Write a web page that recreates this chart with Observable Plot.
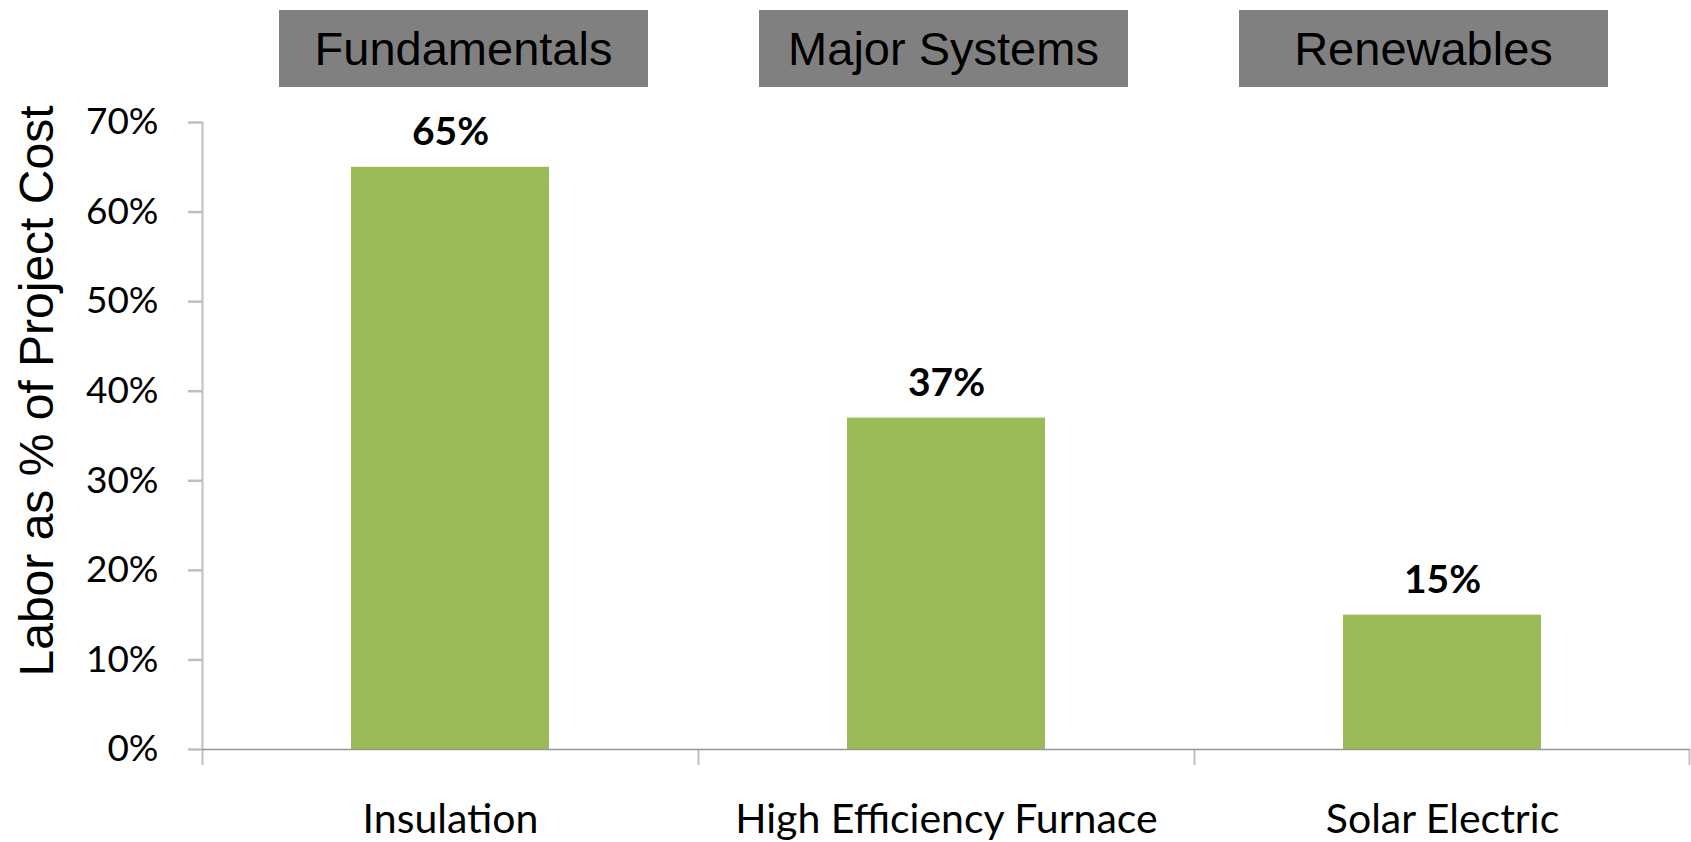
<!DOCTYPE html>
<html><head><meta charset="utf-8">
<script src="https://cdn.jsdelivr.net/npm/d3@7"></script>
<script src="https://cdn.jsdelivr.net/npm/@observablehq/plot@0.6"></script>
<style>
body{margin:0;background:#fff;}
#header{position:relative;width:1691px;height:100px;}
.box{position:absolute;top:10px;width:369px;height:77px;background:#808080;color:#000;font:47px "Liberation Sans",Arial,sans-serif;display:flex;align-items:center;justify-content:center;}
#chart svg{display:block}
</style></head><body>
<div id="header"></div>
<div id="chart"></div>
<script>
const categories = ["Insulation", "High Efficiency Furnace", "Solar Electric"];
const laborShare = [0.65, 0.37, 0.15];
const groups = ["Fundamentals", "Major Systems", "Renewables"];
const yTicks = [0, 0.1, 0.2, 0.3, 0.4, 0.5, 0.6, 0.7];
const yTitle = "Labor as % of Project Cost";

const data = categories.map((c, i) => ({category: c, value: laborShare[i]}));
const W = 1691, H = 742, mL = 202, mR = 1, mT = 22, mB = 93;
const step = (W - mL - mR) / categories.length;
const fmt = d3.format(".0%");

const header = document.getElementById("header");
groups.forEach((g, i) => {
  const d = document.createElement("div");
  d.className = "box";
  d.style.left = (279 + i * 480) + "px";
  d.textContent = g;
  header.appendChild(d);
});

const chart = Plot.plot({
  width: W, height: H,
  marginLeft: mL, marginRight: mR, marginTop: mT, marginBottom: mB,
  style: {fontFamily: "Lato, sans-serif", background: "#fff", overflow: "visible", color: "#000"},
  x: {domain: categories, paddingInner: 0.6, paddingOuter: 0.3, label: null},
  y: {domain: [0, 0.7], label: null},
  marks: [
    Plot.barY(data, {x: "category", y: "value", fill: "#9bbb59"}),
    Plot.frame({anchor: "left", stroke: "#c0c0c0", strokeWidth: 2}),
    Plot.ruleX(categories, {x: d => d, dx: -step / 2, y1: 0, y2: 0, insetBottom: -16, stroke: "#c0c0c0", strokeWidth: 2}),
    Plot.ruleX(categories.slice(-1), {x: d => d, dx: step / 2 - 1, y1: 0, y2: 0, insetBottom: -16, stroke: "#c0c0c0", strokeWidth: 2}),
    Plot.ruleY([0], {stroke: "#969696", strokeWidth: 1.5}),
    Plot.axisY({ticks: yTicks, tickFormat: fmt, tickSize: 14, tickPadding: 30, fontSize: 37, stroke: "#bfbfbf", strokeWidth: 2.5, fill: "#000", label: null}),
    Plot.axisX({tickSize: 0, tickPadding: 54, fontSize: 41, fill: "#000", label: null}),
    Plot.text(data, {x: "category", y: "value", text: d => fmt(d.value), dy: -22, lineAnchor: "bottom", fontSize: 39, fontWeight: "bold", fill: "#000"}),
    Plot.text([yTitle], {frameAnchor: "left", textAnchor: "middle", rotate: -90, dx: -150, dy: -45, lineAnchor: "bottom", fontSize: 48, fontFamily: "Liberation Sans, Arial, sans-serif", fill: "#000"})
  ]
});
document.getElementById("chart").appendChild(chart);
</script>
</body></html>
